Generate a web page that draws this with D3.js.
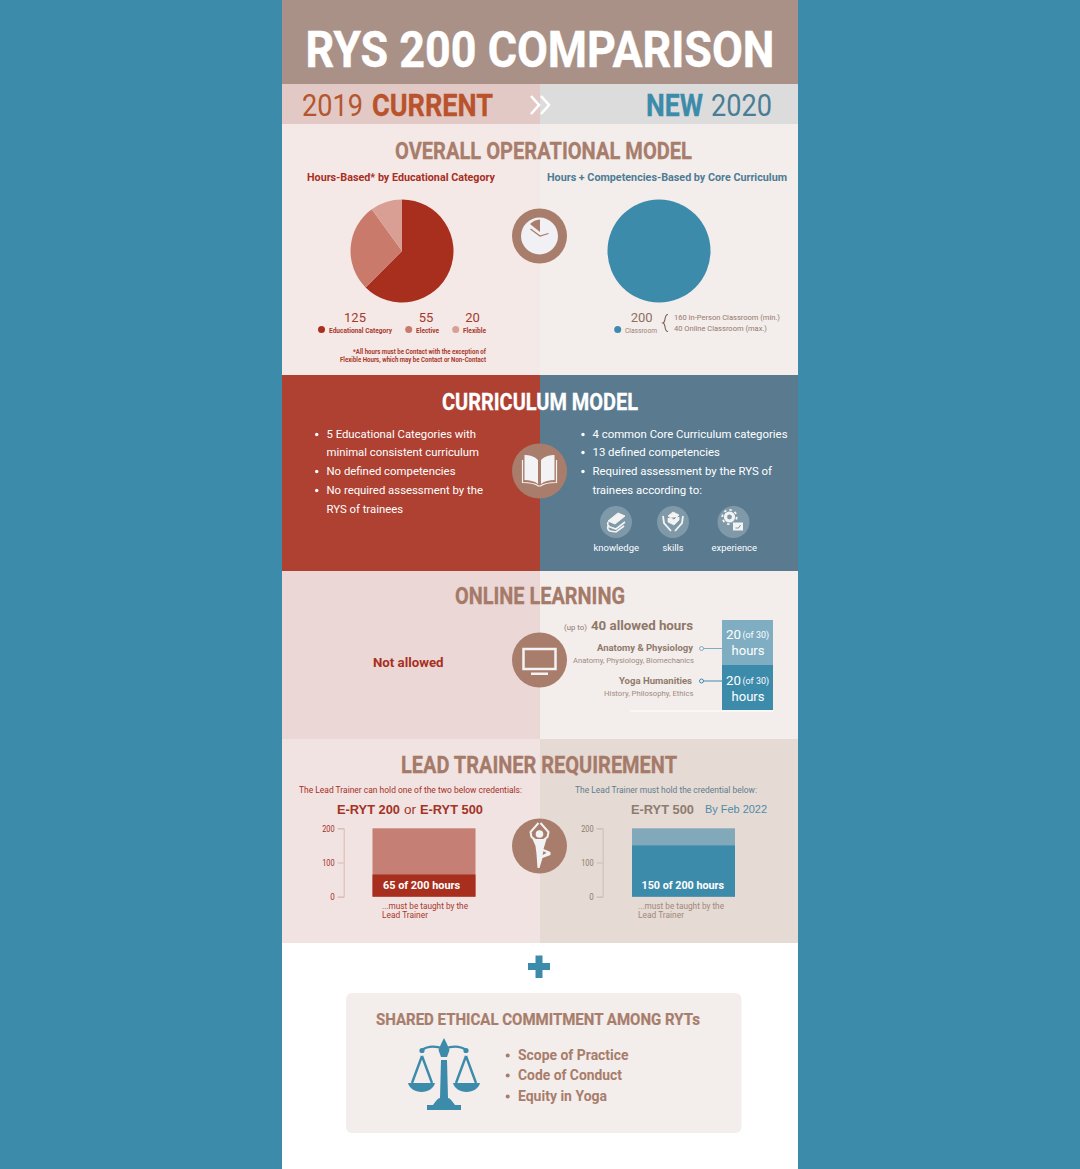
<!DOCTYPE html>
<html>
<head>
<meta charset="utf-8">
<script src="https://d3js.org/d3.v7.min.js"></script>
<style>
  html, body { margin: 0; padding: 0; background: #3d8bab; }
  svg { display: block; }
  text { font-family: Roboto, sans-serif; }
  .arial { font-family: "Liberation Sans", sans-serif; }
</style>
</head>
<body>
<div id="chart"></div>
<script>
// data
var currentLabels = ["Educational Category", "Elective", "Flexible"];
var currentHours = [125, 55, 20];
var newLabels = ["Classroom"];
var newHours = [200];
var classroomSplit = ["160 In-Person Classroom (min.)", "40 Online Classroom (max.)"];
var onlineLabels = ["Anatomy & Physiology", "Yoga Humanities"];
var onlineSubLabels = ["Anatomy, Physiology, Biomechanics", "History, Philosophy, Ethics"];
var onlineHours = [20, 20];
var trainerTicks = [0, 100, 200];
var trainerTotal = 200;
var trainerCurrent = 65;
var trainerNew = 150;
var curriculumLeft = ["5 Educational Categories with", "minimal consistent curriculum", "No defined competencies", "No required assessment by the", "RYS of trainees"];
var curriculumRight = ["4 common Core Curriculum categories", "13 defined competencies", "Required assessment by the RYS of", "trainees according to:"];
var assessment = ["knowledge", "skills", "experience"];
var ethics = ["Scope of Practice", "Code of Conduct", "Equity in Yoga"];

var brown = "#a87d6b", red = "#a82f1e", blue = "#3d8bab";

var svg = d3.select("#chart").append("svg").attr("width", 1080).attr("height", 1169);

// text helper, x1 = right edge so Roboto can be squeezed to the condensed widths
function txt(str, x, y, size, weight, fill, x1, cls) {
  var t = svg.append("text").attr("x", x).attr("y", y)
    .attr("font-size", size).attr("font-weight", weight).attr("fill", fill).text(str);
  if (x1) t.attr("textLength", x1 - x).attr("lengthAdjust", "spacingAndGlyphs");
  if (cls) t.attr("class", cls);
  return t;
}
function mid(str, x, y, size, weight, fill) {
  return txt(str, x, y, size, weight, fill).attr("text-anchor", "middle");
}
// squeezed headings lose weight, a thin outline brings it back
function heading(str, x, y, size, fill, x1) {
  return txt(str, x, y, size, 700, fill, x1).attr("stroke", fill).attr("stroke-width", 0.3);
}
function band(x, y, w, h, fill) {
  svg.append("rect").attr("x", x).attr("y", y).attr("width", w).attr("height", h).attr("fill", fill);
}

// backgrounds
band(0, 0, 1080, 1169, "#3d8bab");
band(282, 0, 516, 1169, "#ffffff");
band(282, 0, 516, 84, "#a99187");
band(282, 84, 258, 40, "#e2c9c5");
band(540, 84, 258, 40, "#dcdcdc");
band(282, 124, 258, 251, "#f5e9e7");
band(540, 124, 258, 251, "#f3edeb");
band(282, 375, 258, 196, "#ae4132");
band(540, 375, 258, 196, "#597a8f");
band(282, 571, 258, 168, "#ead7d6");
band(540, 571, 258, 168, "#f3eeec");
band(282, 739, 258, 204, "#f1e3e2");
band(540, 739, 258, 204, "#e5dad4");

// header
heading("RYS 200 COMPARISON", 305.5, 67, 50, "#ffffff", 774.5).attr("stroke-width", 0.45);
txt("2019", 302, 116, 32, 400, "#b5562f", 363);
heading("CURRENT", 372, 116, 32, "#b8532c", 493);
heading("NEW", 646, 116, 32, blue, 703);
txt("2020", 711, 116, 32, 400, "#4a7d96", 772);
svg.append("path").attr("d", "M531,96L539,105L531,114M541,96L549,105L541,114")
  .attr("fill", "none").attr("stroke", "#fff").attr("stroke-width", 2.6);

// overall operational model
heading("OVERALL OPERATIONAL MODEL", 395, 158.5, 24, brown, 692);
txt("Hours-Based* by Educational Category", 307, 181, 11, 700, red, 495);
txt("Hours + Competencies-Based by Core Curriculum", 547, 181, 11, 700, "#4f7c94", 787);

var pie = d3.pie().sort(null);
var arc = d3.arc().innerRadius(0).outerRadius(51.5);
var pieColor = d3.scaleOrdinal().domain(currentLabels).range([red, "#c97a6b", "#d99f94"]);

svg.append("g").attr("transform", "translate(402,251)")
  .selectAll("path").data(pie(currentHours)).enter().append("path")
  .attr("d", arc).attr("fill", function (d, i) { return pieColor(currentLabels[i]); });
svg.append("g").attr("transform", "translate(659,251)")
  .selectAll("path").data(pie(newHours)).enter().append("path")
  .attr("d", arc).attr("fill", blue);

// pie legends
var valueX = [355, 426, 472.5], dotX = [321.5, 408.7, 455.7], labelX = [[329, 392], [416, 439], [463, 486]];
currentLabels.forEach(function (d, i) {
  mid(currentHours[i], valueX[i], 322, 13, 400, "#a33a2c");
  svg.append("circle").attr("cx", dotX[i]).attr("cy", 329.5).attr("r", 3.5).attr("fill", pieColor(d));
  txt(d, labelX[i][0], 333, 8, 700, "#a8392b", labelX[i][1]);
});
txt("*All hours must be Contact with the exception of", 353, 354, 6.8, 700, "#a8392b", 486);
txt("Flexible Hours, which may be Contact or Non-Contact", 340, 362, 6.8, 700, "#a8392b", 486);

mid(newHours[0], 641.7, 322, 13, 400, "#8f6f60");
svg.append("circle").attr("cx", 617.7).attr("cy", 329.5).attr("r", 3.5).attr("fill", blue);
txt(newLabels[0], 625, 333, 8, 400, "#9c8378", 657);
svg.append("path").attr("d", "M668,314.5C663.5,314.5 666.5,322 663,323C666.5,324 663.5,331.5 668,331.5")
  .attr("fill", "none").attr("stroke", "#7d5f52").attr("stroke-width", 1.1);
txt(classroomSplit[0], 674, 320, 7.8, 400, "#94796d", 780);
txt(classroomSplit[1], 674, 331, 7.8, 400, "#94796d", 767);

// clock icon
svg.append("circle").attr("cx", 539.5).attr("cy", 236).attr("r", 27.5).attr("fill", brown);
svg.append("circle").attr("cx", 539.5).attr("cy", 236).attr("r", 18.5).attr("fill", "#f1f1f5");
svg.append("path").attr("d", "M540,232L530,224A16.5,16.5 0 0 1 540,219.5Z").attr("fill", brown);
svg.append("path").attr("d", "M530.5,229L540,236L548.5,233.5").attr("fill", "none").attr("stroke", brown).attr("stroke-width", 1.3);

// curriculum model
heading("CURRICULUM MODEL", 442, 410, 24, "#ffffff", 638);
var leftBaselines = [438, 456, 475, 494, 513], leftEnds = [476, 479, 455.5, 483, 403], leftDots = [0, 2, 3];
curriculumLeft.forEach(function (d, i) {
  txt(d, 326.5, leftBaselines[i], 11, 400, "#ffffff", leftEnds[i]);
});
leftDots.forEach(function (i) {
  svg.append("circle").attr("cx", 316.7).attr("cy", leftBaselines[i] - 3.5).attr("r", 1.7).attr("fill", "#fff");
});
var rightEnds = [787.5, 720, 772, 702], rightDots = [0, 1, 2];
curriculumRight.forEach(function (d, i) {
  txt(d, 592.5, leftBaselines[i], 11, 400, "#ffffff", rightEnds[i]);
});
rightDots.forEach(function (i) {
  svg.append("circle").attr("cx", 583).attr("cy", leftBaselines[i] - 3.5).attr("r", 1.7).attr("fill", "#fff");
});
var assessX = [616, 673, 733.5], assessText = [[593.5, 639], [662.5, 683.5], [711.5, 757]];
assessment.forEach(function (d, i) {
  svg.append("circle").attr("cx", assessX[i]).attr("cy", 522).attr("r", 16).attr("fill", "#7f99a9");
  txt(d, assessText[i][0], 551, 9.3, 400, "#ffffff", assessText[i][1]);
});

// knowledge, skills, experience icons
var ik = svg.append("g").attr("transform", "translate(616,522)").attr("fill", "none").attr("stroke", "#f3f3f3");
ik.append("path").attr("d", "M-8,-1L2,-9L9,-6L-1,2Z").attr("fill", "#f3f3f3").attr("stroke-width", 1);
ik.append("path").attr("d", "M-8,0C-9,3 -8,4 -6,5L0,7L9,0M-8,4C-9,7 -8,8 -6,9L0,10L8,4").attr("stroke-width", 1.6);
var is = svg.append("g").attr("transform", "translate(673,522)").attr("fill", "none").attr("stroke", "#f3f3f3").attr("stroke-width", 1.8);
is.append("path").attr("d", "M-10,-6L-9,1L-2,9M10,-6L9,1L2,9");
is.append("path").attr("d", "M-5,-6L0,-10L6,-7L1,-2Z M-5,-4L-5,0L1,3L6,-2L6,-5").attr("fill", "#f3f3f3").attr("stroke-width", 0.8);
var ie = svg.append("g").attr("transform", "translate(733.5,522)");
ie.append("circle").attr("cx", -4).attr("cy", -5).attr("r", 4).attr("fill", "none").attr("stroke", "#f3f3f3").attr("stroke-width", 3.2);
ie.append("circle").attr("cx", -4).attr("cy", -5).attr("r", 7.2).attr("fill", "none").attr("stroke", "#f3f3f3").attr("stroke-width", 1.8).attr("stroke-dasharray", "2.6 3");
ie.append("rect").attr("x", -1).attr("y", 0).attr("width", 11).attr("height", 9).attr("rx", 1).attr("fill", "#f3f3f3").attr("stroke", "#7f99a9");
ie.append("path").attr("d", "M2,6L5,6L7,3").attr("fill", "none").attr("stroke", "#7f99a9");

// book icon
svg.append("circle").attr("cx", 539.5).attr("cy", 471).attr("r", 27.5).attr("fill", brown);
var book = svg.append("g").attr("transform", "translate(539.5,471)");
book.append("path").attr("d", "M-1.5,-11C-5,-15 -11,-16 -15,-16L-15,9C-10,9 -5,10 -1.5,13Z M1.5,-11C5,-15 11,-16 15,-16L15,9C10,9 5,10 1.5,13Z").attr("fill", "#f3f3f6");
book.append("path").attr("d", "M-17,-11L-17,11.5C-10,11.5 -5,12 -1,15L1,15C5,12 10,11.5 17,11.5L17,-11").attr("fill", "none").attr("stroke", "#f3f3f6").attr("stroke-width", 1.2);

// online learning
heading("ONLINE LEARNING", 455, 603.5, 24, "#a57a69", 625);
txt("Not allowed", 373, 667, 12.5, 700, red, 443.5);
svg.append("circle").attr("cx", 539.5).attr("cy", 660).attr("r", 27.5).attr("fill", brown);
svg.append("rect").attr("x", 523.5).attr("y", 649).attr("width", 32).attr("height", 20).attr("fill", "none").attr("stroke", "#f3f3f6").attr("stroke-width", 2.5);
svg.append("rect").attr("x", 531).attr("y", 672.5).attr("width", 17).attr("height", 2.5).attr("fill", "#f3f3f6");

txt("(up to)", 564, 630, 7.5, 400, "#8e7a6f", 587);
txt("40 allowed hours", 591, 630, 13, 700, "#8f7868", 693);

// stacked online bar, first item sits on top of the second
var yOnline = d3.scaleLinear().domain([0, d3.sum(onlineHours)]).range([710, 620]);
var onlineColors = ["#7fadc2", blue];
var onlineTop = [onlineHours[0] + onlineHours[1], onlineHours[1]];
var onlineBase = [onlineHours[1], 0];
svg.selectAll("rect.online").data(onlineHours).enter().append("rect")
  .attr("class", "online")
  .attr("x", 722).attr("width", 51)
  .attr("y", function (d, i) { return yOnline(onlineTop[i]); })
  .attr("height", function (d, i) { return yOnline(onlineBase[i]) - yOnline(onlineTop[i]); })
  .attr("fill", function (d, i) { return onlineColors[i]; });
band(630, 710.5, 143, 1, "#ffffff");

var onlineTitleX = [[597, 693], [619, 692]], onlineTitleY = [651, 684];
var onlineSubX = [[573, 694], [604, 693.5]], onlineSubY = [663, 696];
var connectY = [648.5, 681], numY = [639, 685], hoursY = [655, 701];
onlineLabels.forEach(function (d, i) {
  txt(d, onlineTitleX[i][0], onlineTitleY[i], 9, 700, "#907a6c", onlineTitleX[i][1]);
  txt(onlineSubLabels[i], onlineSubX[i][0], onlineSubY[i], 7.3, 400, "#9f8a7e", onlineSubX[i][1]);
  svg.append("line").attr("x1", 703).attr("x2", 722).attr("y1", connectY[i]).attr("y2", connectY[i])
    .attr("stroke", onlineColors[i]).attr("stroke-width", 1);
  svg.append("circle").attr("cx", 701.5).attr("cy", connectY[i]).attr("r", 2)
    .attr("fill", "#f3eeec").attr("stroke", onlineColors[i]).attr("stroke-width", 1);
  txt(onlineHours[i], 726, numY[i], 13, 400, "#ffffff", 741);
  txt("(of 30)", 742.5, numY[i] - 1, 9, 400, "#ffffff", 769);
  mid("hours", 748, hoursY[i], 13, 400, "#ffffff");
});

// lead trainer requirement
heading("LEAD TRAINER REQUIREMENT", 401, 772.5, 24, "#a57a69", 677);
txt("The Lead Trainer can hold one of the two below credentials:", 299, 793, 8.8, 400, red, 522);
txt("The Lead Trainer must hold the credential below:", 575, 793, 8.8, 400, "#627d8e", 757);
txt("E-RYT 200", 337, 814, 13, 700, "#a33325", 400, "arial");
txt("or", 404, 814, 13, 400, "#a33325", 416, "arial");
txt("E-RYT 500", 420, 814, 13, 700, "#a33325", 483, "arial");
txt("E-RYT 500", 631, 814, 13, 700, "#8f7c70", 694, "arial");
txt("By Feb 2022", 705, 813, 11, 400, "#4f8ba8", 767, "arial");

var yTrainer = d3.scaleLinear().domain([0, trainerTotal]).range([896.7, 828.3]);

function trainerPanel(axisX, barX, filled, lightColor, darkColor, axisColor, labelColor) {
  var ax = svg.append("g").attr("transform", "translate(" + axisX + ",0)")
    .call(d3.axisLeft(yTrainer).tickValues(trainerTicks).tickSize(6).tickPadding(3));
  ax.selectAll("path,line").attr("stroke", axisColor);
  ax.selectAll("text").attr("fill", labelColor).attr("font-size", 9.5).attr("font-family", "Roboto")
    .attr("textLength", function (d) { return d === 0 ? 4.5 : 12.5; })
    .attr("lengthAdjust", "spacingAndGlyphs");
  svg.append("rect").attr("x", barX).attr("width", 103).attr("y", yTrainer(trainerTotal))
    .attr("height", yTrainer(0) - yTrainer(trainerTotal)).attr("fill", lightColor);
  svg.append("rect").attr("x", barX).attr("width", 103).attr("y", yTrainer(filled))
    .attr("height", yTrainer(0) - yTrainer(filled)).attr("fill", darkColor);
}
trainerPanel(343.7, 372.5, trainerCurrent, "#c67f75", red, "#dcb8b2", "#a12f22");
trainerPanel(602.7, 632, trainerNew, "#82a9ba", blue, "#cfbdb5", "#8f7c70");

txt(trainerCurrent + " of " + trainerTotal + " hours", 383, 888.7, 11, 700, "#ffffff", 460);
txt(trainerNew + " of " + trainerTotal + " hours", 641.5, 888.7, 11, 700, "#ffffff", 724);
txt("...must be taught by the", 382, 908.5, 8.5, 400, "#a8392b", 468);
txt("Lead Trainer", 382, 917.5, 8.5, 400, "#a8392b", 428);
txt("...must be taught by the", 638, 908.5, 8.5, 400, "#a0887c", 724);
txt("Lead Trainer", 638, 917.5, 8.5, 400, "#a0887c", 684);

// yoga icon
svg.append("circle").attr("cx", 539.5).attr("cy", 846).attr("r", 27.5).attr("fill", brown);
var yoga = svg.append("g").attr("transform", "translate(539.5,846)");
yoga.append("circle").attr("cx", 0).attr("cy", -12).attr("r", 3.8).attr("fill", "#f3f3f6");
yoga.append("path").attr("d", "M-4,-6L-8,-9L-9,-14L-1,-23M4,-6L8,-9L9,-14L1,-23")
  .attr("fill", "none").attr("stroke", "#f3f3f6").attr("stroke-width", 2);
yoga.append("path").attr("d", "M-7,-7L7,-7L4,3L11,6L11,9L3,12L0,22L-2,22L-3,8L-4,0Z").attr("fill", "#f3f3f6");
yoga.append("path").attr("d", "M4,5L7,7L3,9Z").attr("fill", brown);

// shared ethics
svg.append("path").attr("d", "M528,963L535.5,963L535.5,955.5L542.5,955.5L542.5,963L550,963L550,970L542.5,970L542.5,978L535.5,978L535.5,970L528,970Z").attr("fill", blue);
svg.append("rect").attr("x", 346).attr("y", 993).attr("width", 395.5).attr("height", 140).attr("rx", 6).attr("fill", "#f3edeb");
heading("SHARED ETHICAL COMMITMENT AMONG RYTs", 376, 1025, 16, brown, 700).attr("stroke-width", 0.2);
var ethicsY = [1060, 1080, 1101], ethicsEnd = [628.5, 622, 607];
ethics.forEach(function (d, i) {
  svg.append("circle").attr("cx", 507.7).attr("cy", ethicsY[i] - 4.5).attr("r", 2).attr("fill", brown);
  txt(d, 518, ethicsY[i], 14, 700, brown, ethicsEnd[i]);
});

// scales icon
var sc = svg.append("g").attr("transform", "translate(444,1074)").attr("fill", blue);
sc.append("path").attr("d", "M-3,-14L3,-14L4,24L-4,24Z");
sc.append("path").attr("d", "M0,-36L2.5,-31L5.5,-24L3,-17L-3,-17L-5.5,-24L-2.5,-31Z");
sc.append("path").attr("d", "M-22,-24C-15,-29 -8,-28 0,-25C8,-28 15,-29 22,-24").attr("fill", "none").attr("stroke", blue).attr("stroke-width", 2.2);
sc.append("circle").attr("cx", -22).attr("cy", -23.5).attr("r", 2.6);
sc.append("circle").attr("cx", 22).attr("cy", -23.5).attr("r", 2.6);
sc.append("path").attr("d", "M-22,-18L-32,9M-22,-18L-12,9M22,-18L12,9M22,-18L32,9").attr("fill", "none").attr("stroke", blue).attr("stroke-width", 2.4);
sc.append("path").attr("d", "M-36,9L-9,9C-10,14 -16,18 -22.5,18C-29,18 -35,14 -36,9Z");
sc.append("path").attr("d", "M9,9L36,9C35,14 29,18 22.5,18C16,18 10,14 9,9Z");
sc.append("path").attr("d", "M-17,36L-17,31L-11,31C-8,27 -6,24 -4,24L4,24C6,24 8,27 11,31L17,31L17,36Z");
</script>
</body>
</html>
